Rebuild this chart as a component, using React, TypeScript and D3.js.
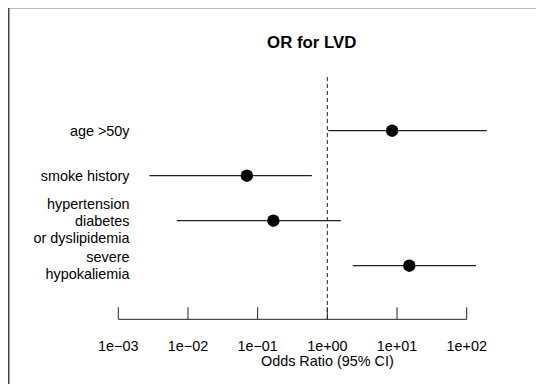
import React from "react";
import * as d3 from "d3";

const labels: string[][] = [
  ["age >50y"],
  ["smoke history"],
  ["hypertension", "diabetes", "or dyslipidemia"],
  ["severe", "hypokaliemia"],
];
const estimates = [8.5, 0.07, 0.168, 15.0];
const lowers = [1.03, 0.0028, 0.0069, 2.31];
const uppers = [194, 0.6, 1.56, 136];
const tickValues = [1e-3, 1e-2, 1e-1, 1e0, 1e1, 1e2];
const tickLabels = ["1e\u221203", "1e\u221202", "1e\u221201", "1e+00", "1e+01", "1e+02"];
const title = "OR for LVD";
const xTitle = "Odds Ratio (95% CI)";

export default function App() {
  const W = 536, H = 385;
  const x = d3.scaleLog().domain([1e-3, 1e2]).range([118.3, 466.7]);
  const rows = labels.map((_, i) => i);
  const y = d3.scalePoint<number>().domain(rows).range([130.7, 265.7]);
  const axisY = 319.3;
  const font = "'Liberation Sans', Arial, Helvetica, sans-serif";
  const fs = 14.4;
  const lh = 17.2;
  return (
    <svg width={W} height={H} style={{ position: "absolute", left: 0, top: 0, background: "#fff" }} fontFamily={font}>
      <line x1={8} x2={W} y1={8.5} y2={8.5} stroke="#bbb" strokeWidth={1} />
      <line x1={8.75} x2={8.75} y1={8} y2={384} stroke="#444" strokeWidth={1.5} />
      <text x={311.7} y={47.7} textAnchor="middle" fontSize={16.8} fontWeight="bold" fill="#000">{title}</text>
      <line x1={x(1)} x2={x(1)} y1={77} y2={axisY} stroke="#222" strokeWidth={1} strokeDasharray="4,3" />
      {rows.map((i) => {
        const cy = y(i) as number;
        const n = labels[i].length;
        return (
          <g key={i}>
            <line x1={x(lowers[i])} x2={x(uppers[i])} y1={cy} y2={cy} stroke="#222" strokeWidth={1.2} />
            <circle cx={x(estimates[i])} cy={cy} r={6.2} fill="#000" />
            {labels[i].map((t, j) => (
              <text key={j} x={129.5} y={cy + (j - (n - 1) / 2) * lh} dy="0.36em" textAnchor="end" fontSize={fs} fill="#000">{t}</text>
            ))}
          </g>
        );
      })}
      <line x1={x(1e-3)} x2={x(1e2)} y1={axisY} y2={axisY} stroke="#222" strokeWidth={1} />
      {tickValues.map((v, i) => (
        <g key={i}>
          <line x1={x(v)} x2={x(v)} y1={axisY} y2={axisY - 12} stroke="#222" strokeWidth={1} />
          <text x={x(v)} y={350.7} textAnchor="middle" fontSize={fs} fill="#000">{tickLabels[i]}</text>
        </g>
      ))}
      <text x={x(1)} y={366} textAnchor="middle" fontSize={fs} fill="#000">{xTitle}</text>
    </svg>
  );
}
